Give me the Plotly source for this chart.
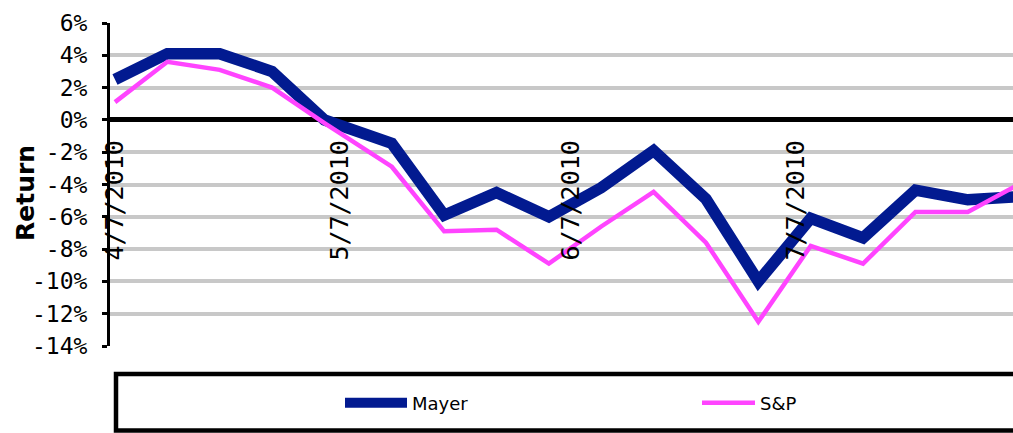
import plotly.graph_objects as go

# ---- data ----
dates = ["2010-04-07", "2010-04-14", "2010-04-21", "2010-04-28", "2010-05-05",
         "2010-05-14", "2010-05-21", "2010-05-28", "2010-06-04", "2010-06-11",
         "2010-06-18", "2010-06-25", "2010-07-02", "2010-07-09", "2010-07-16",
         "2010-07-23", "2010-07-30", "2010-08-06"]
mayer = [2.5, 4.1, 4.1, 3.0, 0.0, -1.45, -5.9, -4.5, -6.0, -4.2,
         -1.9, -4.9, -10.0, -6.1, -7.3, -4.35, -4.95, -4.75]
sp = [1.1, 3.6, 3.1, 2.0, -0.2, -2.9, -6.9, -6.8, -8.9, -6.6,
      -4.45, -7.6, -12.5, -7.8, -8.9, -5.7, -5.7, -3.95]

y_tick_vals = [-14, -12, -10, -8, -6, -4, -2, 0, 2, 4, 6]
y_tick_labels = ["-14%", "-12%", "-10%", "-8%", "-6%", "-4%", "-2%", "0%", "2%", "4%", "6%"]
x_tick_vals = ["2010-04-07", "2010-05-07", "2010-06-07", "2010-07-07"]
x_tick_labels = ["4/7/2010", "5/7/2010", "6/7/2010", "7/7/2010"]

W, H = 1013, 433
ML, MR, MT, MB = 110, 0, 23, 87
PW, PH = W - ML - MR, H - MT - MB

def px_x(p):
    return (p - ML) / PW

def px_y(p):
    return (H - MB - p) / PH

fig = go.Figure()
fig.add_trace(go.Scatter(x=dates, y=mayer, name="Mayer", mode="lines",
                         line=dict(color="#021A90", width=11.5), legend="legend"))
fig.add_trace(go.Scatter(x=dates, y=sp, name="S&P", mode="lines",
                         line=dict(color="#FF44FF", width=4.5), legend="legend2"))

legend_font = dict(family="DejaVu Sans", size=18, color="black")
tick_family = "DejaVu Sans Mono"

fig.update_layout(
    width=W, height=H,
    margin=dict(l=ML, r=MR, t=MT, b=MB, pad=0),
    paper_bgcolor="white", plot_bgcolor="white",
    showlegend=True,
    legend=dict(orientation="h", x=px_x(340), xanchor="left", y=px_y(403), yanchor="middle",
                font=legend_font, itemwidth=62, bgcolor="rgba(0,0,0,0)", borderwidth=0),
    legend2=dict(orientation="h", x=px_x(697), xanchor="left", y=px_y(403), yanchor="middle",
                 font=legend_font, itemwidth=53, bgcolor="rgba(0,0,0,0)", borderwidth=0),
    xaxis=dict(
        type="date",
        range=["2010-04-06 08:00", "2010-08-05 01:00"],
        anchor="free", position=(H - MB - 120.2) / PH,
        showgrid=False, zeroline=False, showline=False,
        ticks="", tickvals=x_tick_vals, ticktext=x_tick_labels,
        tickangle=-90, ticklabelstandoff=14,
        tickfont=dict(family=tick_family, size=25, color="black"),
        automargin=False,
    ),
    yaxis=dict(
        range=[-14, 6],
        tickvals=y_tick_vals, ticktext=y_tick_labels,
        showgrid=True, gridcolor="#C8C8C8", gridwidth=4,
        zeroline=True, zerolinecolor="black", zerolinewidth=4.5,
        showline=True, linecolor="black", linewidth=3,
        ticks="outside", ticklen=5, tickwidth=3, tickcolor="black",
        ticklabelstandoff=10,
        tickfont=dict(family=tick_family, size=23, color="black"),
        automargin=False,
    ),
    shapes=[dict(type="rect", xref="paper", yref="paper",
                 x0=px_x(116), x1=1.02, y0=px_y(430.5), y1=px_y(374),
                 line=dict(color="black", width=4.5), fillcolor="rgba(0,0,0,0)",
                 layer="above")],
    annotations=[dict(text="<b>Return</b>", xref="paper", yref="paper",
                      x=px_x(25), y=px_y(193), xanchor="center", yanchor="middle",
                      textangle=-90, showarrow=False,
                      font=dict(family="DejaVu Sans", size=25, color="black"))],
)

fig.write_html("out.html")
